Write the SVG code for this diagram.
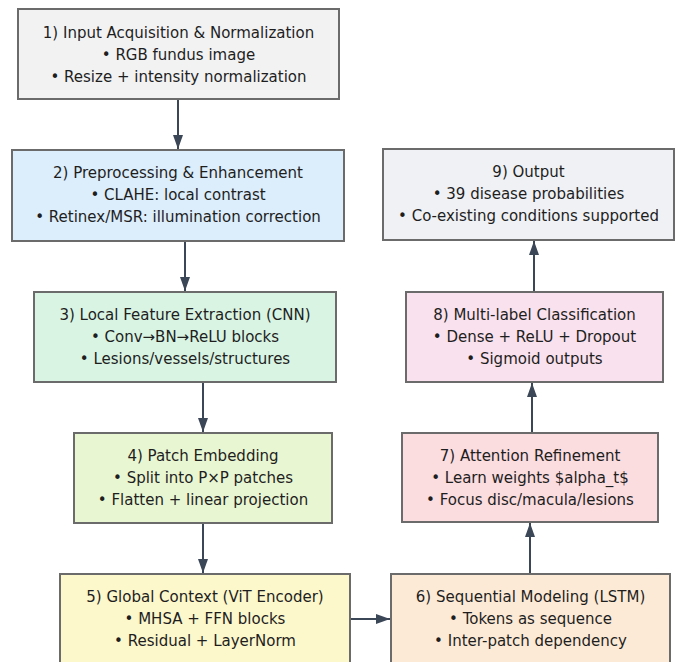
<svg xmlns="http://www.w3.org/2000/svg" width="678" height="662" viewBox="0 0 678 662">
<style>
.box{stroke:#6b6b6b;stroke-width:2}
.t{font-family:"DejaVu Sans","Liberation Sans",sans-serif;font-size:15px;fill:#1e1e1e;text-anchor:middle}
.c{stroke:#3b4657;stroke-width:2;fill:none}
</style>
<defs>
<marker id="ah" markerUnits="userSpaceOnUse" markerWidth="14" markerHeight="10" refX="14" refY="5" orient="auto">
<path d="M0,0 L14,5 L0,10 z" fill="#3b4657"/>
</marker>
</defs>
<rect width="678" height="662" fill="#ffffff"/>
<g id="n1">
<rect class="box" x="18" y="9" width="321" height="90" fill="#f2f2f3"/>
<text class="t" x="178.5" y="38">1) Input Acquisition &amp; Normalization</text>
<text class="t" x="178.5" y="60">• RGB fundus image</text>
<text class="t" x="178.5" y="82">• Resize + intensity normalization</text>
</g>
<g id="n2">
<rect class="box" x="12" y="150" width="332" height="91" fill="#dcedfb"/>
<text class="t" x="178" y="178">2) Preprocessing &amp; Enhancement</text>
<text class="t" x="178" y="200">• CLAHE: local contrast</text>
<text class="t" x="178" y="222">• Retinex/MSR: illumination correction</text>
</g>
<g id="n3">
<rect class="box" x="34" y="292" width="302" height="90" fill="#d9f4e3"/>
<text class="t" x="185" y="320">3) Local Feature Extraction (CNN)</text>
<text class="t" x="185" y="342">• Conv→BN→ReLU blocks</text>
<text class="t" x="185" y="364">• Lesions/vessels/structures</text>
</g>
<g id="n4">
<rect class="box" x="74" y="433" width="258" height="90" fill="#e9f6d2"/>
<text class="t" x="203" y="461">4) Patch Embedding</text>
<text class="t" x="203" y="483">• Split into P×P patches</text>
<text class="t" x="203" y="505">• Flatten + linear projection</text>
</g>
<g id="n5">
<rect class="box" x="60" y="574" width="290" height="96" fill="#fdf7cc"/>
<text class="t" x="205" y="602">5) Global Context (ViT Encoder)</text>
<text class="t" x="205" y="624">• MHSA + FFN blocks</text>
<text class="t" x="205" y="646">• Residual + LayerNorm</text>
</g>
<g id="n6">
<rect class="box" x="391" y="574" width="279" height="96" fill="#fdead6"/>
<text class="t" x="530.5" y="602">6) Sequential Modeling (LSTM)</text>
<text class="t" x="530.5" y="624">• Tokens as sequence</text>
<text class="t" x="530.5" y="646">• Inter-patch dependency</text>
</g>
<g id="n7">
<rect class="box" x="402" y="433" width="256" height="89" fill="#fbdcdf"/>
<text class="t" x="530" y="461">7) Attention Refinement</text>
<text class="t" x="530" y="483">• Learn weights $alpha_t$</text>
<text class="t" x="530" y="505">• Focus disc/macula/lesions</text>
</g>
<g id="n8">
<rect class="box" x="406" y="292" width="257" height="90" fill="#f9e1ed"/>
<text class="t" x="534.5" y="320">8) Multi-label Classification</text>
<text class="t" x="534.5" y="342">• Dense + ReLU + Dropout</text>
<text class="t" x="534.5" y="364">• Sigmoid outputs</text>
</g>
<g id="n9">
<rect class="box" x="383" y="149" width="291" height="91" fill="#eff1f4"/>
<text class="t" x="528.5" y="177">9) Output</text>
<text class="t" x="528.5" y="199">• 39 disease probabilities</text>
<text class="t" x="528.5" y="221">• Co-existing conditions supported</text>
</g>
<g id="connectors">
<line class="c" x1="178" y1="100" x2="178" y2="149" marker-end="url(#ah)"/>
<line class="c" x1="185" y1="242" x2="185" y2="291" marker-end="url(#ah)"/>
<line class="c" x1="203" y1="383" x2="203" y2="432" marker-end="url(#ah)"/>
<line class="c" x1="203" y1="524" x2="203" y2="573" marker-end="url(#ah)"/>
<line class="c" x1="351" y1="619" x2="390" y2="619" marker-end="url(#ah)"/>
<line class="c" x1="530" y1="573" x2="530" y2="523" marker-end="url(#ah)"/>
<line class="c" x1="532" y1="432" x2="532" y2="383" marker-end="url(#ah)"/>
<line class="c" x1="534" y1="291" x2="534" y2="241" marker-end="url(#ah)"/>
</g>
</svg>
